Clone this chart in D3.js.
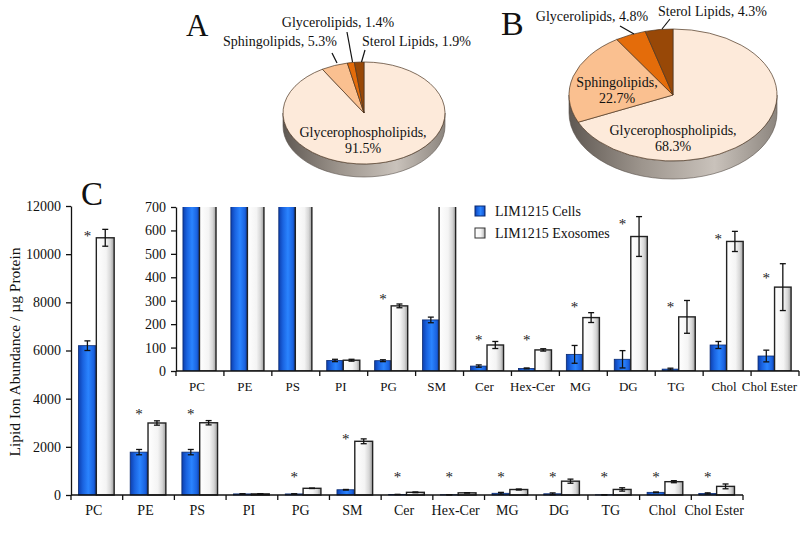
<!DOCTYPE html>
<html><head><meta charset="utf-8">
<script src="https://cdn.jsdelivr.net/npm/d3@7"></script>
<style>body{margin:0;background:#fff}svg{display:block}text{font-family:"Liberation Serif","Times New Roman",serif;fill:#111}</style>
</head><body><svg id="c" width="800" height="556"></svg>
<script>
// ---------- data ----------
const categories = ["PC","PE","PS","PI","PG","SM","Cer","Hex-Cer","MG","DG","TG","Chol","Chol Ester"];
const cellsValues = [6200, 1780, 1780, 45, 44, 218, 21, 11, 71, 50, 8, 111, 64];
const cellsErr    = [200, 110, 110, 5, 4, 12, 5, 2, 38, 37, 4, 15, 25];
const exoValues   = [10680, 2990, 3000, 46, 278, 2230, 111, 90, 228, 574, 231, 553, 358];
const exoErr      = [350, 90, 90, 4, 8, 100, 15, 5, 21, 85, 70, 43, 100];
const mainStarLevel  = [10875, 3500, 3500, null, 875, 2460, 875, 875, 875, 875, 875, 875, 875];
const insetStarLevel = [null, null, null, null, 318, null, 147, 147, 286, 639, 285, 575, 410];
const mainTicks  = [0, 2000, 4000, 6000, 8000, 10000, 12000];
const insetTicks = [0, 100, 200, 300, 400, 500, 600, 700];
const seriesNames = ["LIM1215 Cells", "LIM1215 Exosomes"];

const pieCategories = ["Glycerophospholipids", "Sphingolipids", "Glycerolipids", "Sterol Lipids"];
const pieAValues = [91.5, 5.3, 1.4, 1.9];
const pieBValues = [68.3, 22.7, 4.8, 4.3];
const pieColors = ["#FDEADA", "#FAC090", "#E46C0A", "#984807"];

const svg = d3.select("#c");
const defs = svg.append("defs");

const gBlue = defs.append("linearGradient").attr("id","gBlue");
[[0,"#0d3fae"],[0.25,"#1a63e0"],[0.55,"#2a84ff"],[0.85,"#1a62df"],[1,"#0b3593"]].forEach(s=>gBlue.append("stop").attr("offset",s[0]).attr("stop-color",s[1]));
const gWhite = defs.append("linearGradient").attr("id","gWhite");
[[0,"#ffffff"],[0.55,"#f4f4f4"],[0.8,"#d6d6d6"],[1,"#9c9c9c"]].forEach(s=>gWhite.append("stop").attr("offset",s[0]).attr("stop-color",s[1]));
const gSide = defs.append("linearGradient").attr("id","gSide");
[[0,"#5f5852"],[0.35,"#9d958d"],[0.7,"#c9c2bb"],[1,"#8c857e"]].forEach(s=>gSide.append("stop").attr("offset",s[0]).attr("stop-color",s[1]));

function drawBars(g, x, y, starLevels, clipId) {
  const bw = x.bandwidth();
  const off = bw * 0.145, w = bw * 0.345;
  const body = clipId ? g.append("g").attr("clip-path", `url(#${clipId})`) : g;
  const idx = d3.range(categories.length);
  body.selectAll("rect.cells").data(idx).join("rect")
    .attr("x", i => x(categories[i]) + off).attr("width", w)
    .attr("y", i => y(cellsValues[i])).attr("height", i => y(0) - y(cellsValues[i]))
    .attr("fill", "url(#gBlue)").attr("stroke", "#0a2a70").attr("stroke-width", 0.8);
  body.selectAll("rect.exo").data(idx).join("rect")
    .attr("x", i => x(categories[i]) + off + w).attr("width", w)
    .attr("y", i => y(exoValues[i])).attr("height", i => y(0) - y(exoValues[i]))
    .attr("fill", "url(#gWhite)").attr("stroke", "#222").attr("stroke-width", 1.4);
  const eb = (vals, errs, shift) => {
    idx.forEach(i => {
      const cx = x(categories[i]) + off + shift + w / 2;
      const y1 = y(vals[i] + errs[i]), y2 = y(Math.max(0, vals[i] - errs[i]));
      const gg = body.append("g").attr("stroke", "#111").attr("stroke-width", 1.3);
      gg.append("line").attr("x1", cx).attr("x2", cx).attr("y1", y1).attr("y2", y2);
      gg.append("line").attr("x1", cx - 3).attr("x2", cx + 3).attr("y1", y1).attr("y2", y1);
      gg.append("line").attr("x1", cx - 3).attr("x2", cx + 3).attr("y1", y2).attr("y2", y2);
    });
  };
  eb(cellsValues, cellsErr, 0);
  eb(exoValues, exoErr, w);
  idx.forEach(i => {
    if (starLevels[i] == null) return;
    g.append("text").attr("x", x(categories[i]) + off + w / 2).attr("y", y(starLevels[i]) + 8)
      .attr("text-anchor", "middle").attr("font-size", 15).style("fill", "#222").text("*");
  });
}

function drawXAxis(g, x, y0, fs) {
  const r = x.range();
  g.append("line").attr("x1", r[0]).attr("x2", r[1]).attr("y1", y0).attr("y2", y0)
    .attr("stroke", "#111").attr("stroke-width", 1.3);
  const bounds = categories.map(c => x(c)).concat([r[1]]);
  g.selectAll("line.tk").data(bounds).join("line").attr("class","tk")
    .attr("x1", d => d).attr("x2", d => d).attr("y1", y0).attr("y2", y0 + 5)
    .attr("stroke", "#111").attr("stroke-width", 1.3);
  g.selectAll("text.xl").data(categories).join("text").attr("class","xl")
    .attr("text-anchor", "middle").attr("font-size", fs)
    .attr("y", y0 + 20)
    .text(c => c)
    .each(function(c) {
      const half = this.getComputedTextLength() / 2;
      const cx = Math.min(x(c) + x.bandwidth() / 2 - 3, 797 - half);
      d3.select(this).attr("x", cx);
    });
}

function drawYAxis(g, y, x0, ticks) {
  const ax = d3.axisLeft(y).tickValues(ticks).tickSize(5).tickPadding(5).tickSizeOuter(0).tickFormat(d3.format("d"));
  const a = g.append("g").attr("transform", `translate(${x0},0)`).call(ax);
  a.select(".domain").attr("stroke", "#111").attr("stroke-width", 1.3);
  a.selectAll(".tick line").attr("stroke", "#111").attr("stroke-width", 1.3);
  a.selectAll(".tick text").attr("font-size", 14).attr("font-family", '"Liberation Serif",serif').attr("fill", "#111");
}

const xMain = d3.scaleBand().domain(categories).range([71, 743]).padding(0);
const yMain = d3.scaleLinear().domain([0, 12000]).range([495, 206]);
const gMain = svg.append("g");
drawBars(gMain, xMain, yMain, mainStarLevel, null);
drawXAxis(gMain, xMain, 495, 14);
drawYAxis(gMain, yMain, 71, mainTicks);
svg.append("g").attr("transform", "translate(20,352)")
  .append("text").attr("transform", "rotate(-90)").attr("text-anchor", "middle")
  .attr("font-size", 15.5).text("Lipid Ion Abundance / µg Protein");

const xIn = d3.scaleBand().domain(categories).range([176, 799]).padding(0);
const yIn = d3.scaleLinear().domain([0, 700]).range([371, 207]);
defs.append("clipPath").attr("id", "clipIn").append("rect")
  .attr("x", 176).attr("y", 207).attr("width", 623).attr("height", 164);
const gIn = svg.append("g");
drawBars(gIn, xIn, yIn, insetStarLevel, "clipIn");
drawXAxis(gIn, xIn, 371, 13);
drawYAxis(gIn, yIn, 176, insetTicks);

const leg = svg.append("g");
seriesNames.forEach((n, i) => {
  leg.append("rect").attr("x", 475).attr("y", 206 + i * 22).attr("width", 10).attr("height", 10)
    .attr("fill", i ? "url(#gWhite)" : "url(#gBlue)").attr("stroke", i ? "#333" : "#0a2a70").attr("stroke-width", 1);
  leg.append("text").attr("x", 495).attr("y", 216 + i * 22).attr("font-size", 14).text(n);
});

svg.append("text").attr("x", 186).attr("y", 36).attr("font-size", 31).text("A");
svg.append("text").attr("x", 501).attr("y", 35).attr("font-size", 34).text("B");
svg.append("text").attr("x", 81).attr("y", 205).attr("font-size", 33).text("C");

function pie3d(vals, cx, cy, rx, ry, depth) {
  const g = svg.append("g");
  g.append("path").attr("d",
    `M${cx - rx},${cy} A${rx},${ry} 0 0 0 ${cx + rx},${cy} L${cx + rx},${cy + depth} A${rx},${ry} 0 0 1 ${cx - rx},${cy + depth} Z`)
    .attr("fill", "url(#gSide)").attr("stroke", "#5a524b").attr("stroke-width", 0.6);
  const arcs = d3.pie().sort(null).value(d => d)(vals);
  const pt = a => [cx + rx * Math.sin(a), cy - ry * Math.cos(a)];
  arcs.forEach((a, i) => {
    const p0 = pt(a.startAngle), p1 = pt(a.endAngle);
    const large = (a.endAngle - a.startAngle) > Math.PI ? 1 : 0;
    g.append("path").attr("d", `M${cx},${cy} L${p0[0]},${p0[1]} A${rx},${ry} 0 ${large} 1 ${p1[0]},${p1[1]} Z`)
      .attr("fill", pieColors[i]).attr("stroke", "#4a3420").attr("stroke-width", 0.7);
  });
  return g;
}
function label(x, y, t, anchor) {
  svg.append("text").attr("x", x).attr("y", y).attr("font-size", 14).attr("text-anchor", anchor || "start").text(t);
}
function leader(x1, y1, x2, y2) {
  svg.append("line").attr("x1", x1).attr("y1", y1).attr("x2", x2).attr("y2", y2).attr("stroke", "#111").attr("stroke-width", 1.2);
}
const fmt = (i, v) => `${pieCategories[i]}, ${v.toFixed(1)}%`;

pie3d(pieAValues, 364, 113, 81, 51, 13);
label(363, 137, pieCategories[0] + ",", "middle");
label(363, 153, pieAValues[0].toFixed(1) + "%", "middle");
label(338, 27, fmt(2, pieAValues[2]), "middle");
label(280, 46, fmt(1, pieAValues[1]), "middle");
label(362, 46, fmt(3, pieAValues[3]), "start");
leader(332, 53, 337, 63);
leader(347, 32, 352.5, 62);
leader(365, 50, 361.5, 62);

pie3d(pieBValues, 673, 95, 104, 66, 18);
label(673, 135, pieCategories[0] + ",", "middle");
label(673, 151, pieBValues[0].toFixed(1) + "%", "middle");
label(617, 87, pieCategories[1] + ",", "middle");
label(617, 103, pieBValues[1].toFixed(1) + "%", "middle");
label(592, 21, fmt(2, pieBValues[2]), "middle");
label(658, 16, fmt(3, pieBValues[3]), "start");
leader(620, 26, 634, 34);
leader(670, 19, 662, 29);
</script></body></html>
